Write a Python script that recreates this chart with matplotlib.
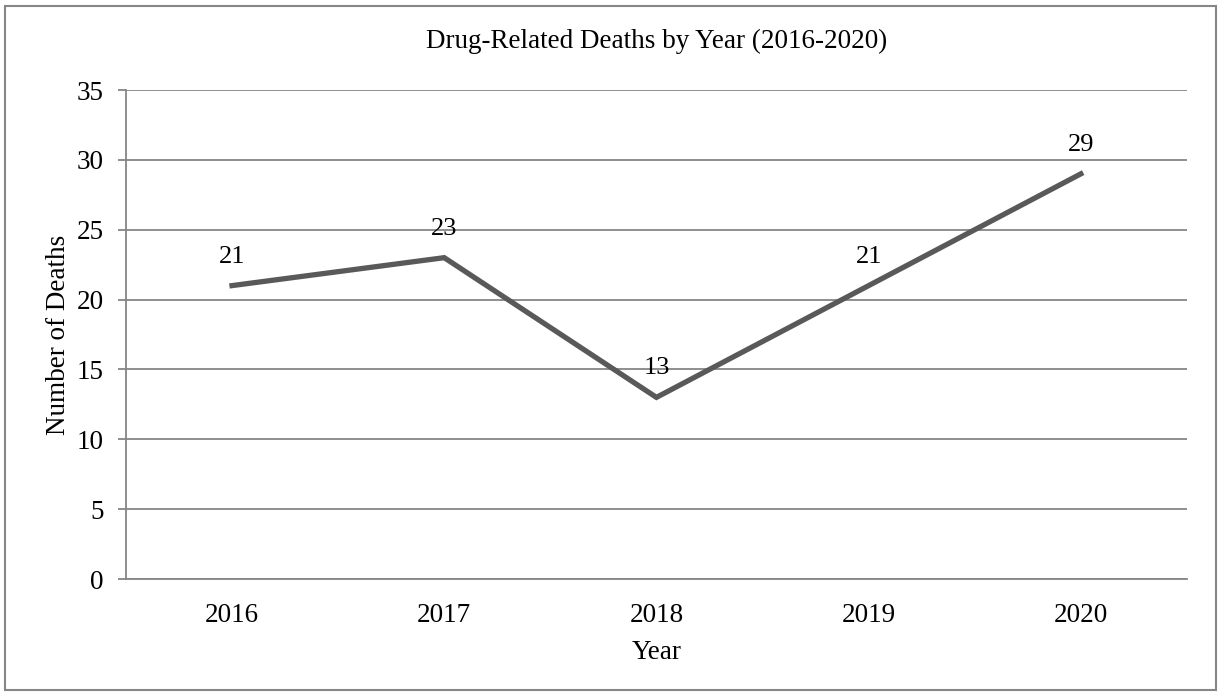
import matplotlib.pyplot as plt
from matplotlib.patches import Rectangle

years = ['2016', '2017', '2018', '2019', '2020']
deaths = [21, 23, 13, 21, 29]
y_ticks = [0, 5, 10, 15, 20, 25, 30, 35]

plt.rcParams['font.family'] = 'Liberation Serif'
FS = 19.5

fig = plt.figure(figsize=(12.18, 6.94), dpi=100)
ax = fig.add_axes([0.1034, 0.1657, 0.8711, 0.7046])

x = list(range(len(years)))
ax.plot(x, deaths, color='#595959', linewidth=3.8, solid_joinstyle='miter', zorder=3)

# data labels above each point
for xi, v in zip(x, deaths):
    ax.annotate(str(v), (xi, v), xytext=(0, 13), textcoords='offset points',
                ha='center', va='bottom', fontsize=19, color='black', zorder=4)

ax.set_xlim(-0.5, len(years) - 0.5)
ax.set_ylim(0, 35)
ax.set_yticks(y_ticks)
ax.set_xticks(x)
ax.set_xticklabels(years)
ax.yaxis.grid(True, color='#868686', linewidth=1.3)
ax.set_axisbelow(True)

for side in ['top', 'right']:
    ax.spines[side].set_visible(False)
ax.spines['left'].set_color('#868686')
ax.spines['bottom'].set_color('#868686')
ax.spines['left'].set_linewidth(1.3)
ax.spines['bottom'].set_linewidth(1.3)

ax.tick_params(axis='y', length=6, width=1.3, color='#868686', labelsize=FS, pad=10)
ax.tick_params(axis='x', length=0, labelsize=FS, pad=17)

ax.set_xlabel('Year', fontsize=FS, labelpad=9)
ax.set_ylabel('Number of Deaths', fontsize=FS, labelpad=4)
ax.set_title('Drug-Related Deaths by Year (2016-2020)', fontsize=FS, pad=30)

# outer chart border
fig.patches.append(Rectangle((0.0045, 0.006), 0.9935, 0.985, transform=fig.transFigure,
                             fill=False, edgecolor='#868686', linewidth=1.5))

fig.savefig('out.png', dpi=100)
